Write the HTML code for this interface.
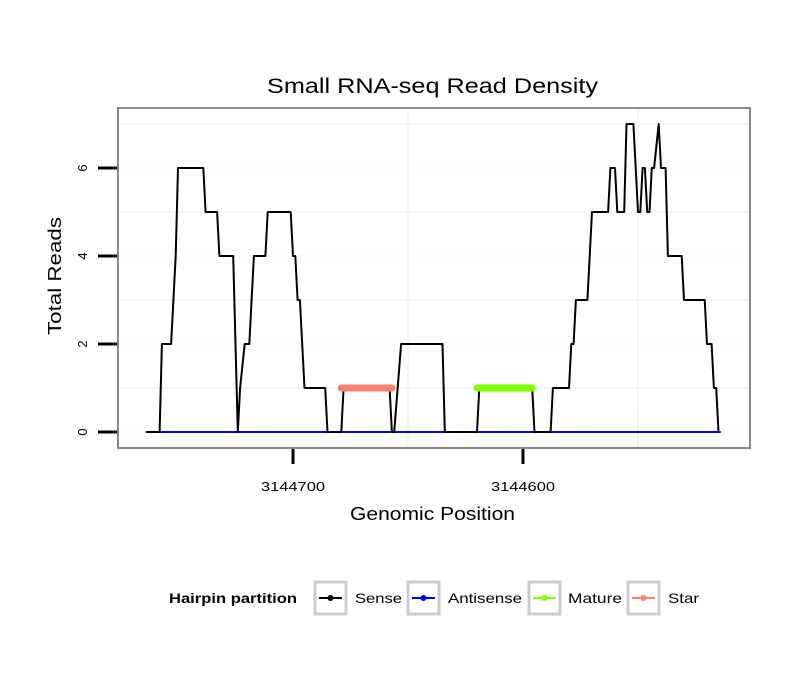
<!DOCTYPE html>
<html><head><meta charset="utf-8"><style>
body{margin:0;background:#fff;}
svg{display:block;font-family:"Liberation Sans",sans-serif;}
</style></head><body>
<svg id="chart" width="810" height="690" xmlns="http://www.w3.org/2000/svg">
<rect x="0" y="0" width="810" height="690" fill="#fff"/>
<text x="267" y="93" font-size="21" textLength="331" lengthAdjust="spacingAndGlyphs">Small RNA-seq Read Density</text>
<rect x="118" y="108" width="632" height="340" fill="#fff"/>
<g id="grid"></g>
<g id="marks"></g>
<rect x="118" y="108" width="632" height="340" fill="none" stroke="#888" stroke-width="2"/>
<g id="axes"></g>
<text transform="translate(61,335) rotate(-90)" font-size="18" textLength="118" lengthAdjust="spacingAndGlyphs">Total Reads</text>
<text x="350" y="520" font-size="18" textLength="165" lengthAdjust="spacingAndGlyphs">Genomic Position</text>
<g>
<text x="169" y="603" font-size="14" font-weight="bold" textLength="128" lengthAdjust="spacingAndGlyphs">Hairpin partition</text>
<g><rect x="315" y="582" width="31" height="32" fill="#fff" stroke="#ccc" stroke-width="3"/><line x1="319" x2="342" y1="598" y2="598" stroke="#000" stroke-width="2"/><circle cx="330.5" cy="598" r="3" fill="#000"/><text x="355" y="603" font-size="14" textLength="47" lengthAdjust="spacingAndGlyphs">Sense</text></g>
<g><rect x="408" y="582" width="31" height="32" fill="#fff" stroke="#ccc" stroke-width="3"/><line x1="412" x2="435" y1="598" y2="598" stroke="#00f" stroke-width="2"/><circle cx="423.5" cy="598" r="3" fill="#00f"/><text x="448" y="603" font-size="14" textLength="74" lengthAdjust="spacingAndGlyphs">Antisense</text></g>
<g><rect x="529" y="582" width="31" height="32" fill="#fff" stroke="#ccc" stroke-width="3"/><line x1="533" x2="556" y1="598" y2="598" stroke="#7fff00" stroke-width="2"/><circle cx="544.5" cy="598" r="3" fill="#7fff00"/><text x="568" y="603" font-size="14" textLength="54" lengthAdjust="spacingAndGlyphs">Mature</text></g>
<g><rect x="628" y="582" width="31" height="32" fill="#fff" stroke="#ccc" stroke-width="3"/><line x1="632" x2="655" y1="598" y2="598" stroke="#fa8072" stroke-width="2"/><circle cx="643.5" cy="598" r="3" fill="#fa8072"/><text x="668" y="603" font-size="14" textLength="31" lengthAdjust="spacingAndGlyphs">Star</text></g>
</g>
</svg>
<script>
const senseOffsets=[764,758,757,753,751,750,739,738,733,732,726,724,723,721,719,717,712,711,701,700,699,698,697,695,686,685,679,678,658,657,656,653,635,634,620,619,596,595,588,587,580,579,578,577,572,570,563,562,560,559,556,555,552,550,549,548,547,546,545,544,543,541,540,538,537,531,530,521,520,518,517,516,515];
const senseReads=[0,0,2,2,4,6,6,5,5,4,4,0,1,2,2,4,4,5,5,4,4,3,3,1,1,0,0,1,1,0,0,2,2,0,0,1,1,0,0,1,1,2,2,3,3,5,5,6,6,5,5,7,7,5,5,6,6,5,5,6,6,7,6,6,4,4,3,3,2,2,1,1,0];
const antisenseRange=[763,514];
const antisenseReads=[0,0];
const starRange=[679,657];
const starReads=[1,1];
const matureRange=[620,596];
const matureReads=[1,1];
const yTicks=[0,2,4,6];
const xTicks=[3144700,3144600];
const xTickLabels=["3144700","3144600"];
const xMinorGrid=[3144650,3144550];
const yMinorGrid=[1,3,5,7];
const BASE=3144000;
const NS="http://www.w3.org/2000/svg";
function X(p){return 293+(3144700-p)*2.3;}
function Y(v){return 432-v*44;}
function mk(tag,attrs,parent){const e=document.createElementNS(NS,tag);for(const k in attrs)e.setAttribute(k,attrs[k]);parent.appendChild(e);return e;}
const grid=document.getElementById('grid'),marks=document.getElementById('marks'),axes=document.getElementById('axes');
yMinorGrid.forEach(v=>{const l=mk('line',{x1:119,x2:749,y1:Y(v),y2:Y(v),stroke:'#f6f6f6','stroke-width':2},grid);

});
yTicks.forEach(v=>{const l=mk('line',{x1:119,x2:749,y1:Y(v),y2:Y(v),stroke:'#fafafa','stroke-width':1},grid);

});
xMinorGrid.forEach(p=>{const l=mk('line',{x1:X(p),x2:X(p),y1:109,y2:447,stroke:'#f6f6f6','stroke-width':2},grid);

});
function line(xs,ys,color,w,name,cap){const pts=xs.map((p,i)=>X(p)+','+Y(ys[i])).join(' ');
const e=mk('polyline',{points:pts,fill:'none',stroke:color,'stroke-width':w,'stroke-linejoin':'round','stroke-linecap':cap||'butt'},marks);

}
line(antisenseRange.map(o=>BASE+o),antisenseReads,'#00f',2,'antisense-line');
line(senseOffsets.map(o=>BASE+o),senseReads,'#000',2,'sense-line');
line(starRange.map(o=>BASE+o),starReads,'#fa8072',7,'star-line','round');
line(matureRange.map(o=>BASE+o),matureReads,'#7fff00',7,'mature-line','round');
yTicks.forEach(v=>{const t=mk('line',{x1:98,x2:117,y1:Y(v),y2:Y(v),stroke:'#000','stroke-width':3},axes);


const tx=mk('text',{transform:`translate(87,${Y(v)}) rotate(-90)`,'font-size':13,'text-anchor':'middle'},axes);tx.textContent=v;

});
xTicks.forEach((p,i)=>{const t=mk('line',{x1:X(p),x2:X(p),y1:449,y2:464,stroke:'#000','stroke-width':3},axes);


const tx=mk('text',{x:X(p)-32,y:491,'font-size':13,textLength:64,lengthAdjust:'spacingAndGlyphs'},axes);tx.textContent=xTickLabels[i];

});
</script>
</body></html>
